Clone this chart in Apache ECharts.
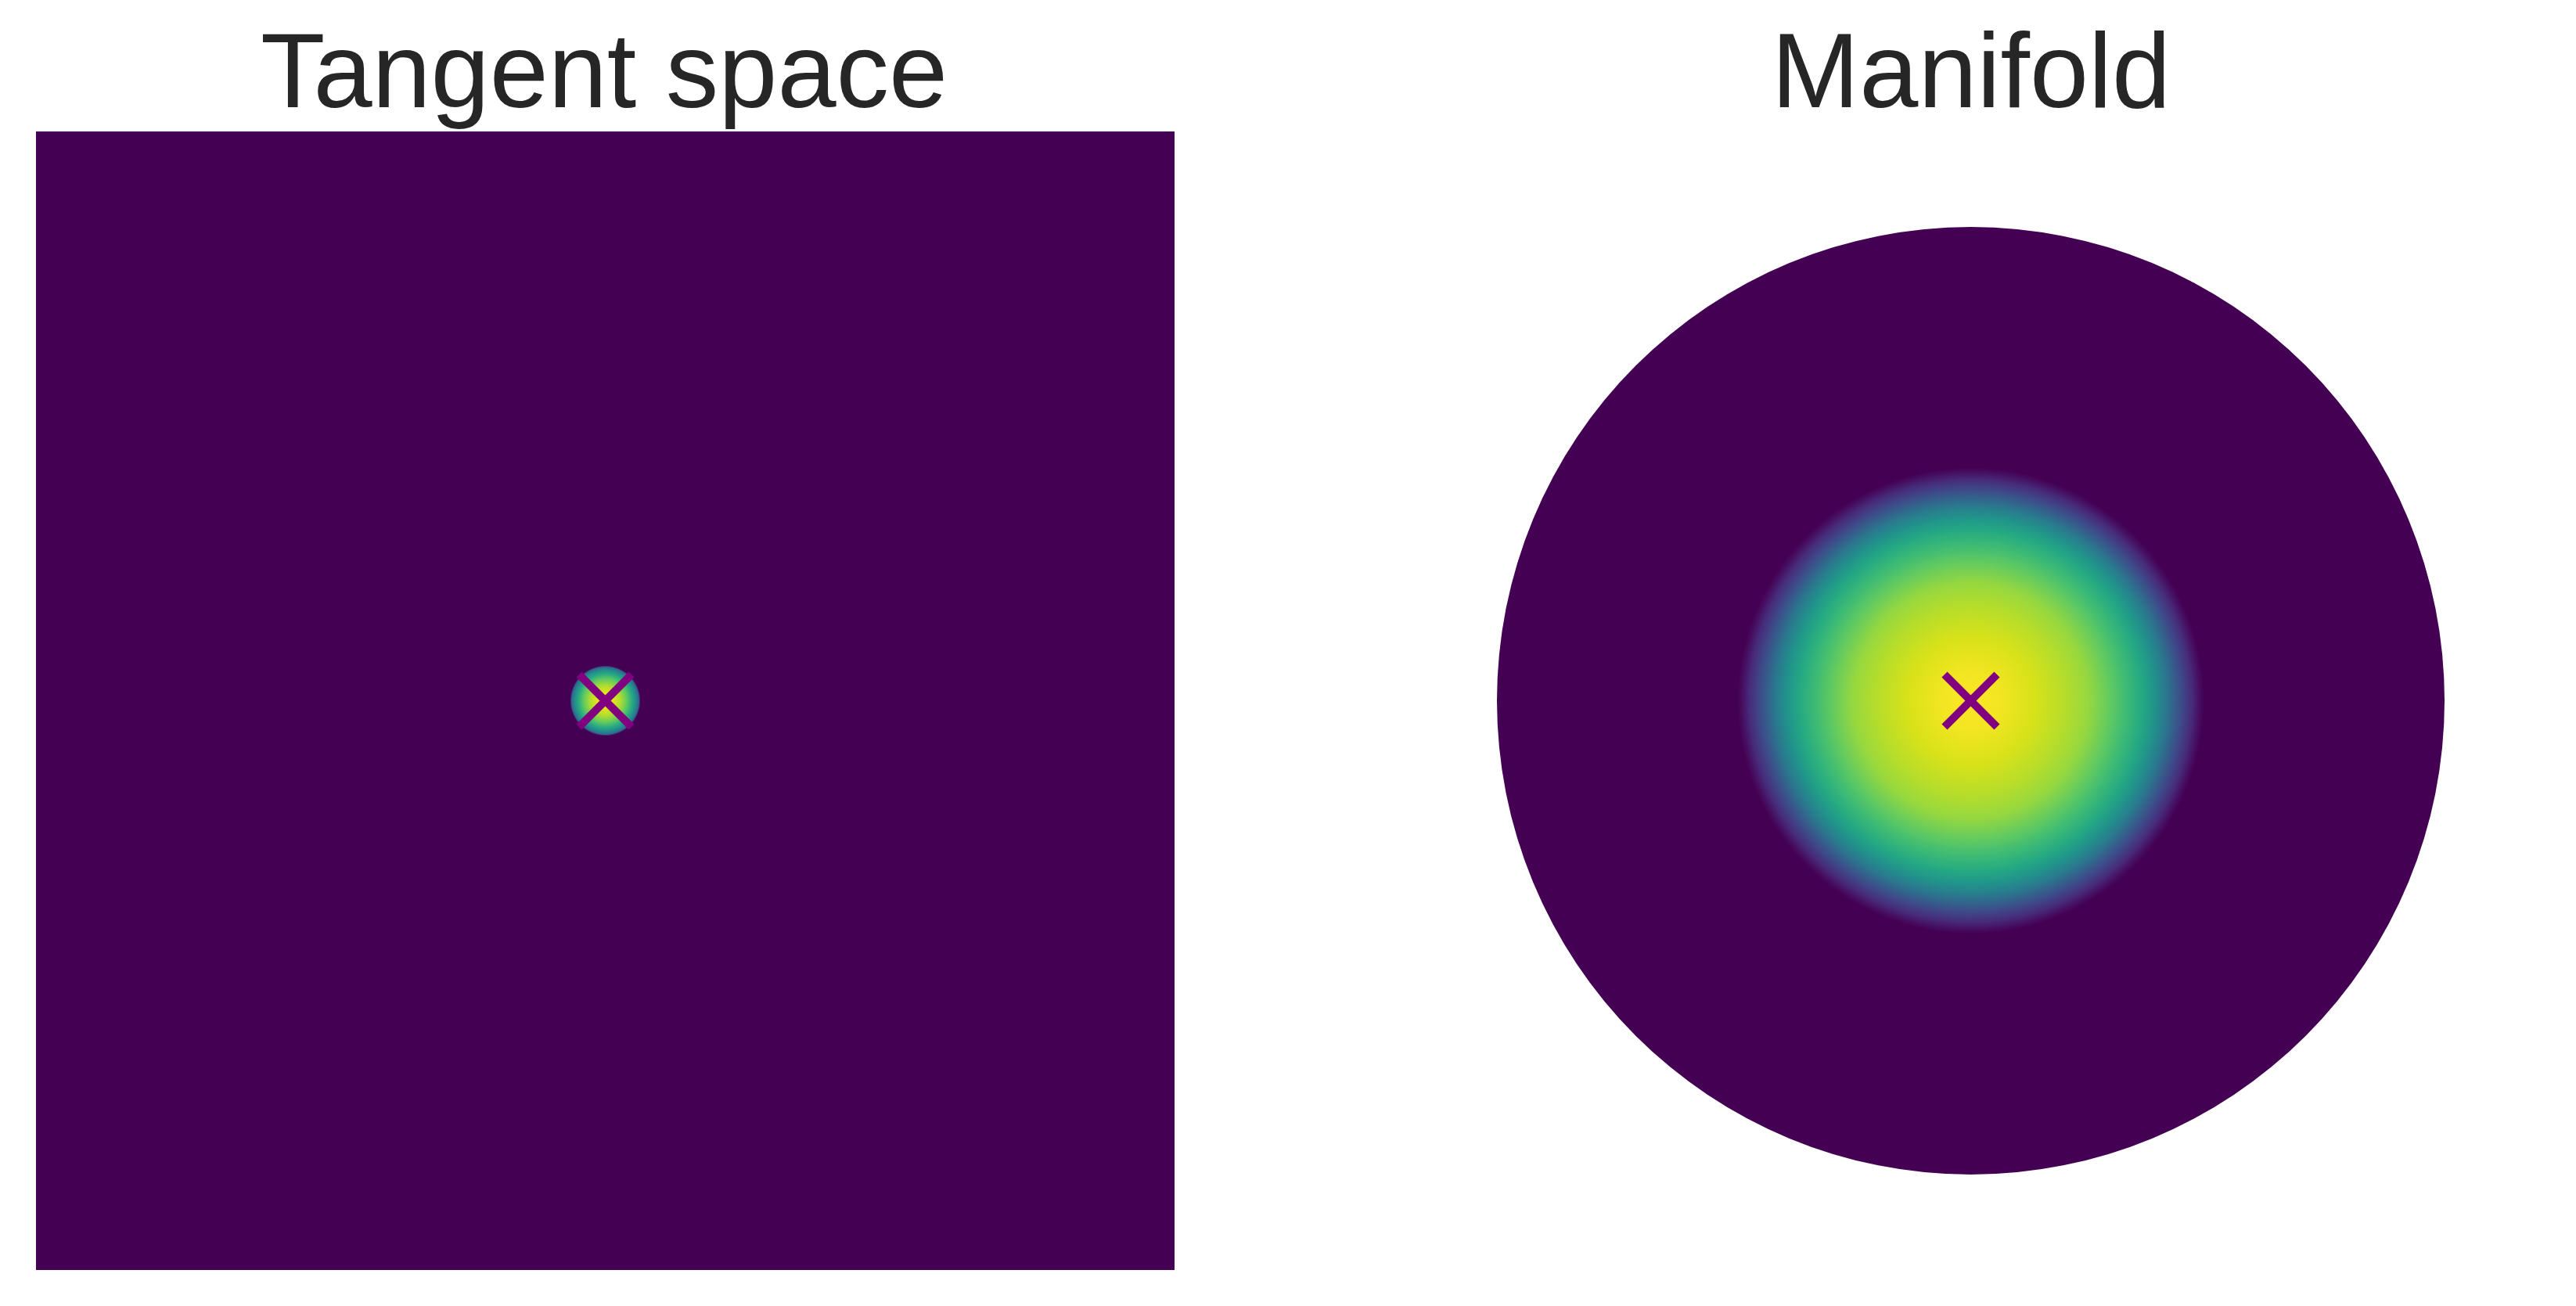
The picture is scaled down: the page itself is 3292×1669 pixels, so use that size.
<!DOCTYPE html>
<html>
<head>
<meta charset="utf-8">
<script src="https://cdn.jsdelivr.net/npm/echarts@6/dist/echarts.min.js"></script>
<style>
html,body{margin:0;padding:0;background:#fff;}
#chart{width:3292px;height:1669px;}
</style>
</head>
<body>
<div id="chart"></div>
<script>
// ---------------- data ----------------
const panelTitles = ['Tangent space', 'Manifold'];
// tangent-space image domain (square), manifold disk radius
const tangentExtent = [-1, 1];
const manifoldRadius = 1;
// location of the mean (the × marker) in each panel
const meanPoint = [0, 0];
// radial density profile (normalised 0..1)
const tangentProfileR = [0, 0.0137, 0.0275, 0.0385, 0.0481, 0.055, 0.0591, 0.0619];
const tangentProfileV = [1.0, 0.96, 0.87, 0.75, 0.60, 0.45, 0.32, 0.0];
// radial density profile
const manifoldProfileR = [0, 0.066, 0.132, 0.198, 0.248, 0.297, 0.330, 0.363, 0.388, 0.413, 0.446, 0.467, 0.484, 0.492];
const manifoldProfileV = [1.0, 0.98, 0.94, 0.89, 0.84, 0.75, 0.68, 0.60, 0.51, 0.40, 0.22, 0.12, 0.03, 0.0];

// ---------------- colormap (viridis) ----------------
const viridisStops = ['#440154','#48186a','#472d7b','#424086','#3b528b','#33638d','#2c728e','#26828e',
  '#21918c','#1fa088','#28ae80','#3fbc73','#5ec962','#84d44b','#addc30','#d8e219','#fde725'];
function hexToRgb(h){return [parseInt(h.slice(1,3),16),parseInt(h.slice(3,5),16),parseInt(h.slice(5,7),16)];}
const viridisRgb = viridisStops.map(hexToRgb);
function viridis(v){
  v = Math.max(0, Math.min(1, v));
  const n = viridisRgb.length - 1;
  const p = v * n; const i = Math.min(n - 1, Math.floor(p)); const t = p - i;
  const a = viridisRgb[i], b = viridisRgb[i + 1];
  const c = a.map((x, k) => Math.round(x + (b[k] - x) * t));
  return 'rgb(' + c.join(',') + ')';
}

// ring items: outer radius/value + next inner radius/value, drawn outermost first
function ringItems(R, V){
  const items = [];
  for (let i = R.length - 1; i >= 1; i--) items.push([R[i], V[i], R[i - 1], V[i - 1]]);
  return items;
}

function blobRender(params, api){
  const r = api.value(0), v = api.value(1), rIn = api.value(2), vIn = api.value(3);
  const c = api.coord(meanPoint);
  const rpx = api.size([r, 0])[0];
  return {
    type: 'circle',
    shape: {cx: c[0], cy: c[1], r: rpx},
    style: {
      fill: new echarts.graphic.RadialGradient(0.5, 0.5, 0.5, [
        {offset: rIn / r, color: viridis(vIn)},
        {offset: 1, color: viridis(v)}
      ])
    }
  };
}

function markerRender(params, api){
  const c = api.coord([api.value(0), api.value(1)]);
  const a = 33.5;
  const st = {stroke: '#800080', lineWidth: 10, lineCap: 'butt'};
  return {
    type: 'group',
    children: [
      {type: 'line', shape: {x1: c[0] - a, y1: c[1] - a, x2: c[0] + a, y2: c[1] + a}, style: st},
      {type: 'line', shape: {x1: c[0] - a, y1: c[1] + a, x2: c[0] + a, y2: c[1] - a}, style: st}
    ]
  };
}

const chart = echarts.init(document.getElementById('chart'), null, {renderer: 'canvas'});
const hiddenAxis = (gi, ext) => ({gridIndex: gi, type: 'value', min: ext[0], max: ext[1], show: false});
const titleFont = {fontSize: 135, fontFamily: 'Liberation Sans, Arial, sans-serif', fill: '#262626', align: 'center', verticalAlign: 'middle'};

const option = {
  animation: false,
  backgroundColor: '#ffffff',
  graphic: [
    {type: 'text', x: 772, y: 100, style: Object.assign({text: panelTitles[0]}, titleFont)},
    {type: 'text', x: 2519, y: 100, style: Object.assign({text: panelTitles[1]}, titleFont)}
  ],
  grid: [
    {left: 46, top: 168, width: 1455, height: 1455},
    {left: 1913, top: 290, width: 1211, height: 1211}
  ],
  xAxis: [hiddenAxis(0, tangentExtent), hiddenAxis(1, [-manifoldRadius, manifoldRadius])],
  yAxis: [hiddenAxis(0, tangentExtent), hiddenAxis(1, [-manifoldRadius, manifoldRadius])],
  series: [
    // tangent-space image domain (density 0)
    {type: 'custom', xAxisIndex: 0, yAxisIndex: 0, clip: false, silent: true,
     data: [[tangentExtent[0], tangentExtent[1], tangentExtent[0], tangentExtent[1], 0]],
     renderItem: function(params, api){
       const p0 = api.coord([api.value(0), api.value(3)]);
       const p1 = api.coord([api.value(1), api.value(2)]);
       return {type: 'rect', shape: {x: p0[0], y: p0[1], width: p1[0] - p0[0], height: p1[1] - p0[1]}, style: {fill: viridis(api.value(4))}};
     }},
    {type: 'custom', xAxisIndex: 0, yAxisIndex: 0, clip: false, silent: true,
     data: ringItems(tangentProfileR, tangentProfileV), renderItem: blobRender},
    {type: 'custom', xAxisIndex: 0, yAxisIndex: 0, clip: false, silent: true,
     data: [meanPoint], renderItem: markerRender},
    // manifold disk (density 0)
    {type: 'custom', xAxisIndex: 1, yAxisIndex: 1, clip: false, silent: true,
     data: [[manifoldRadius, 0]],
     renderItem: function(params, api){
       const c = api.coord(meanPoint);
       const rpx = api.size([api.value(0), 0])[0];
       return {type: 'circle', shape: {cx: c[0], cy: c[1], r: rpx}, style: {fill: viridis(api.value(1))}};
     }},
    {type: 'custom', xAxisIndex: 1, yAxisIndex: 1, clip: false, silent: true,
     data: ringItems(manifoldProfileR, manifoldProfileV), renderItem: blobRender},
    {type: 'custom', xAxisIndex: 1, yAxisIndex: 1, clip: false, silent: true,
     data: [meanPoint], renderItem: markerRender}
  ]
};
chart.setOption(option);
</script>
</body>
</html>
